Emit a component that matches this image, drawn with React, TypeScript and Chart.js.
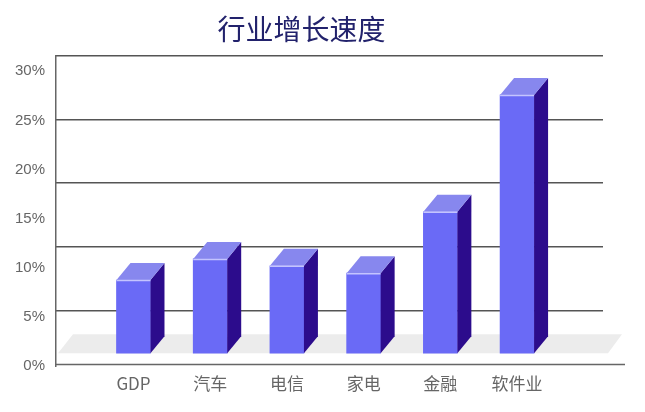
import { useEffect, useRef } from 'react';
import { Chart, registerables } from 'chart.js';

Chart.register(...registerables);

// ---- data ----
const categories = ['GDP', '汽车', '电信', '家电', '金融', '软件业'];
const growth = [8.75, 10.9, 10.2, 9.45, 15.7, 27.6];
const yTicks = [0, 5, 10, 15, 20, 25, 30];
const gridSteps = [0, 1, 2, 3, 4];
const chartTitle = '行业增长速度';

// ---- style constants ----
const FLOOR = 1.3; // floor height of the 3D box in value units
const DX = 14;
const DY = -17;
const FRONT = '#6a6af6';
const TOP = '#8787ee';
const SIDE = '#2c0c8c';

const bar3d = {
  id: 'bar3d',
  beforeDatasetsDraw(chart: any) {
    const { ctx, chartArea } = chart;
    const yb = chart.scales.y.getPixelForValue(FLOOR);
    ctx.save();
    ctx.fillStyle = '#ececec';
    ctx.beginPath();
    ctx.moveTo(chartArea.left + 2, yb);
    ctx.lineTo(chartArea.left + 17, yb - 19);
    ctx.lineTo(chartArea.right + 19, yb - 19);
    ctx.lineTo(chartArea.right + 5, yb);
    ctx.closePath();
    ctx.fill();
    ctx.strokeStyle = '#666';
    ctx.lineWidth = 1.5;
    ctx.beginPath();
    ctx.moveTo(chartArea.left, chartArea.bottom - 1.5);
    ctx.lineTo(chartArea.right + 22, chartArea.bottom - 1.5);
    ctx.stroke();
    ctx.restore();
  },
  afterDatasetsDraw(chart: any) {
    const { ctx } = chart;
    const meta = chart.getDatasetMeta(0);
    ctx.save();
    meta.data.forEach((el: any) => {
      const { x, y, base, width } = el.getProps(['x', 'y', 'base', 'width'], true);
      const l = x - width / 2;
      const r = x + width / 2;
      // side face
      ctx.fillStyle = SIDE;
      ctx.beginPath();
      ctx.moveTo(r, y);
      ctx.lineTo(r + DX, y + DY);
      ctx.lineTo(r + DX, base + DY);
      ctx.lineTo(r, base);
      ctx.closePath();
      ctx.fill();
      // top face
      ctx.fillStyle = TOP;
      ctx.beginPath();
      ctx.moveTo(l, y);
      ctx.lineTo(l + DX, y + DY);
      ctx.lineTo(r + DX, y + DY);
      ctx.lineTo(r, y);
      ctx.closePath();
      ctx.fill();
      // light edge
      ctx.strokeStyle = '#c4c4ff';
      ctx.lineWidth = 1.5;
      ctx.beginPath();
      ctx.moveTo(l, y + 0.5);
      ctx.lineTo(r, y + 0.5);
      ctx.stroke();
    });
    ctx.restore();
  },
};

export default function App() {
  const ref = useRef<HTMLCanvasElement>(null);
  useEffect(() => {
    if (!ref.current) return;
    const chart = new Chart(ref.current, {
      type: 'bar',
      data: {
        datasets: [
          {
            data: categories.map((_, i) => ({ x: i, y: growth[i] })),
            backgroundColor: FRONT,
            borderWidth: 0,
            barThickness: 34,
            base: FLOOR,
          } as any,
        ],
      },
      options: {
        animation: false,
        responsive: false,
        layout: { padding: { left: 0, right: 42, top: 0, bottom: 0 } },
        plugins: {
          legend: { display: false },
          tooltip: { enabled: false },
          title: {
            display: true,
            text: chartTitle,
            color: '#22226c',
            font: { family: '"Noto Sans CJK SC", sans-serif', size: 28, weight: 'normal' },
            padding: { top: 13, bottom: 9 },
          },
        },
        scales: {
          x: {
            type: 'linear',
            offset: false,
            min: -1.01,
            max: 6.12,
            grid: { display: false, drawTicks: false },
            border: { display: false },
            afterBuildTicks: (s: any) => {
              s.ticks = categories.map((_, i) => ({ value: i }));
            },
            afterFit: (s: any) => {
              s.height = 46;
            },
            ticks: {
              padding: 7,
              color: '#666',
              font: { family: '"Noto Sans CJK SC", sans-serif', size: 17 },
              callback: (v: any) => categories[v] ?? '',
            },
          },
          y: {
            min: 0,
            max: 31.6,
            position: 'left',
            grid: { display: false, drawTicks: false },
            border: { display: true, color: '#666', width: 1.5 },
            afterBuildTicks: (s: any) => {
              s.ticks = yTicks.map((v) => ({ value: v }));
            },
            afterFit: (s: any) => {
              s.width = 56;
            },
            ticks: {
              padding: 11,
              color: '#666',
              font: { family: '"Liberation Sans", Arial, sans-serif', size: 15 },
              callback: (v: any) => `${v}%`,
            },
          },
          yGrid: {
            type: 'linear',
            position: 'right',
            reverse: true,
            min: 0,
            max: 4.87,
            afterBuildTicks: (s: any) => {
              s.ticks = gridSteps.map((v) => ({ value: v }));
            },
            afterFit: (s: any) => {
              s.width = 0;
            },
            grid: { color: '#555', lineWidth: 1.5, drawTicks: false },
            border: { display: false },
            ticks: { display: false },
          },
        },
      } as any,
      plugins: [bar3d],
    });
    return () => chart.destroy();
  }, []);
  return (
    <div style={{ position: 'fixed', left: 0, top: 0, width: 645, height: 412, background: '#fff' }}>
      <canvas ref={ref} width={645} height={412} />
    </div>
  );
}
